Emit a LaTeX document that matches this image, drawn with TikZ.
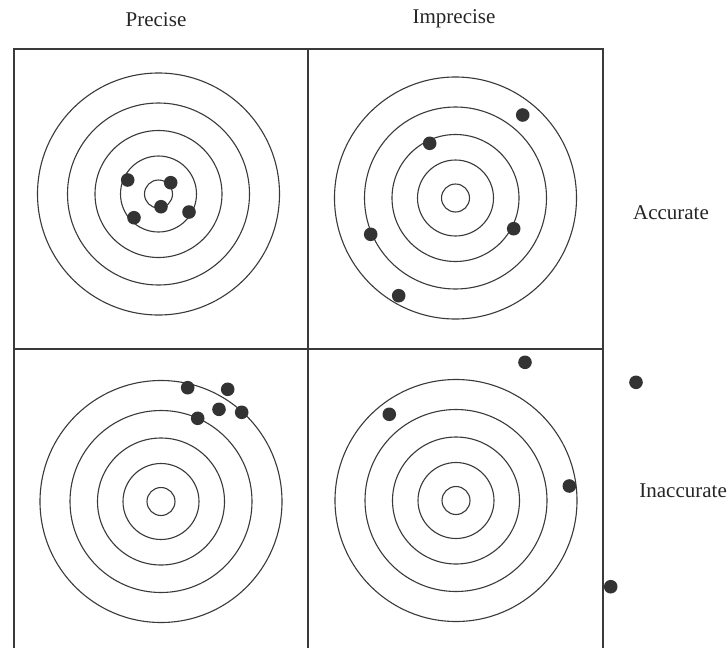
\documentclass[tikz,border=0pt]{standalone}
\usepackage{fontspec}
\setmainfont{Liberation Serif}
\definecolor{ink}{HTML}{3A3A3A}
\definecolor{dotc}{HTML}{333333}
\begin{document}
\begin{tikzpicture}[x=1pt,y=-1pt,
  ring/.style={draw=ink,line width=1.1pt},
  frame/.style={draw=ink,line width=1.3pt},
  hit/.style={fill=dotc},
  lbl/.style={font=\fontsize{21}{24}\selectfont,text=black!85,inner sep=0pt}]
\useasboundingbox[fill=white] (0,0) rectangle (728,648);
% frame
\draw[frame] (14,648) -- (14,49) -- (603,49) -- (603,648);
\draw[frame] (308,49) -- (308,648);
\draw[frame] (14,349) -- (603,349);
% targets
\foreach \cx/\cy in {158.5/194, 455.5/198, 161/501.5, 456/500.5}{
  \foreach \r in {14,38,63.5,91,121}{
    \draw[ring] (\cx,\cy) circle[radius=\r];
  }
}
% hits: precise & accurate
\foreach \px/\py in {127.7/180, 170.7/182.7, 161/206.7, 134/217.7, 189/212}{
  \fill[hit] (\px,\py) circle[radius=6.8];
}
% hits: imprecise & accurate
\foreach \px/\py in {522.7/115, 429.7/143.3, 370.7/234.3, 513.7/228.7, 398.7/295.7}{
  \fill[hit] (\px,\py) circle[radius=6.8];
}
% hits: precise & inaccurate
\foreach \px/\py in {187.7/387.7, 227.7/389.3, 219/409.3, 241.7/412.3, 197.7/418.3}{
  \fill[hit] (\px,\py) circle[radius=6.8];
}
% hits: imprecise & inaccurate
\foreach \px/\py in {525/362.3, 636/382.3, 389.3/414.3, 569.3/486, 610.7/586.7}{
  \fill[hit] (\px,\py) circle[radius=6.8];
}
% labels
\node[lbl] (precise) at (156,20) {Precise};
\node[lbl] (imprecise) at (454,19) {Imprecise};
\node[lbl] (accurate) at (671,213) {Accurate};
\node[lbl,anchor=east] (inaccurate) at (727,491) {Inaccurate};
\end{tikzpicture}
\end{document}
